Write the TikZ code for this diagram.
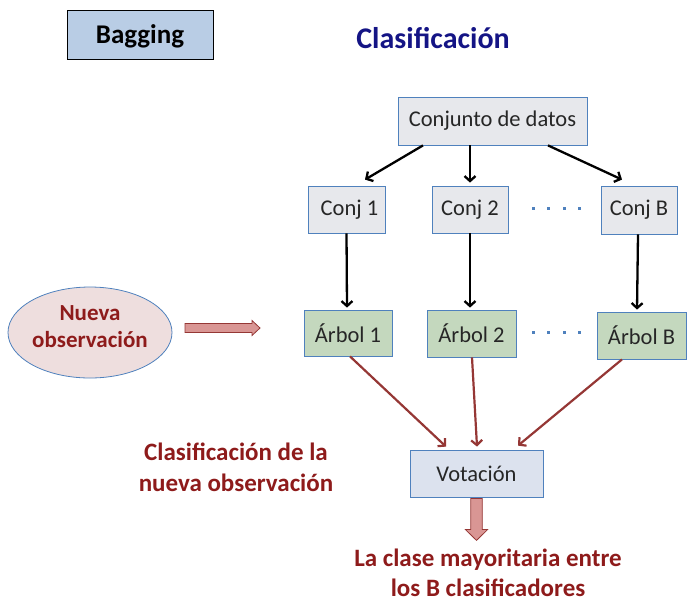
\documentclass[tikz,border=0pt]{standalone}
\usepackage{fontspec}
\setmainfont{Carlito}
\usetikzlibrary{positioning,arrows.meta,shapes.geometric}

\definecolor{bordeazul}{HTML}{4F81BD}
\definecolor{fondobagging}{HTML}{B9CDE5}
\definecolor{fondogris}{HTML}{E7E8EC}
\definecolor{fondoverde}{HTML}{C4D8BE}
\definecolor{fondovoto}{HTML}{DCE2EE}
\definecolor{fondorosa}{HTML}{EEDEDE}
\definecolor{rojooscuro}{HTML}{8E1B1B}
\definecolor{rojoflecha}{HTML}{953735}
\definecolor{rosaflecha}{HTML}{D99694}
\definecolor{azultitulo}{HTML}{141485}

\begin{document}
\begin{tikzpicture}[x=1pt, y=-1pt,
    caja/.style={draw=bordeazul, line width=0.8pt, inner sep=0pt,
        text=black!85, font=\fontsize{22.5}{26}\selectfont},
    rotulo/.style={text=rojooscuro, align=center,
        font=\bfseries\fontsize{25}{31}\selectfont},
    negra/.style={-{Straight Barb[length=5pt,width=11pt]}, line width=2.3pt},
    roja/.style={-{Straight Barb[length=5pt,width=11pt]}, line width=2.2pt, draw=rojoflecha},
    bloque/.style={fill=rosaflecha, draw=rojoflecha, line width=0.8pt}]
    \useasboundingbox (0,0) rectangle (692,603);

    % cabecera
    \node[draw=black, line width=0.8pt, fill=fondobagging, minimum width=146pt, minimum height=49pt,
        text depth=0pt, font=\bfseries\fontsize{27}{32}\selectfont] (bagging) at (140,34.5) {Bagging};
    \node[text=azultitulo, font=\bfseries\fontsize{30}{36}\selectfont] (titulo) at (433,38) {Clasificación};

    % datos y muestras
    \node[caja, fill=fondogris, minimum width=189pt, minimum height=48pt] (datos) at (492.5,121) {Conjunto de datos};
    \node[caja, fill=fondogris, minimum width=77pt, minimum height=47pt] (conj1) at (346.5,209.5) {\hspace{6pt}Conj 1};
    \node[caja, fill=fondogris, minimum width=76pt, minimum height=47pt] (conj2) at (470,209.5) {Conj 2};
    \node[caja, fill=fondogris, minimum width=76pt, minimum height=48pt] (conjB) at (639,210) {Conj B};

    % arboles
    \node[caja, fill=fondoverde, minimum width=88pt, minimum height=46pt] (arbol1) at (348,333) {Árbol 1};
    \node[caja, fill=fondoverde, minimum width=89pt, minimum height=47pt] (arbol2) at (471.5,333.5) {Árbol 2};
    \node[caja, fill=fondoverde, minimum width=89pt, minimum height=47pt] (arbolB) at (641.5,335.5) {Árbol B};

    \node[caja, fill=fondovoto, minimum width=133pt, minimum height=47pt] (votacion) at (476.5,473.5) {Votación};

    \node[ellipse, draw=bordeazul, line width=0.8pt, fill=fondorosa, minimum width=164pt, minimum height=91pt]
        (obs) at (90,332.5) {};
    \node[text=rojooscuro, align=center, font=\bfseries\fontsize{23}{27}\selectfont]
        (obstexto) at ([yshift=6pt]obs.center) {Nueva\\observación};

    \node[rotulo] (clasif) at (236,467) {Clasificación de la\\nueva observación};
    \node[rotulo, font=\bfseries\fontsize{25}{30}\selectfont] (clase) at (488,573) {La clase mayoritaria entre\\los B clasificadores};

    % puntos suspensivos
    \foreach \x in {533,548.5,564,579.5} {
        \fill[bordeazul] (\x-1.5,206.5) rectangle (\x+1.5,209.5);
        \fill[bordeazul] (\x-1.5,330.5) rectangle (\x+1.5,333.5);
    }

    % flechas
    \draw[negra] ([xshift=-69.5pt]datos.south) -- ([xshift=18.5pt,yshift=6pt]conj1.north);
    \draw[negra] ([xshift=-22.5pt]datos.south) -- ([yshift=3pt]conj2.north);
    \draw[negra] ([xshift=55.5pt]datos.south) -- ([xshift=-17pt,yshift=6pt]conjB.north);

    \draw[negra] (conj1.south) -- ([xshift=-1pt,yshift=2pt]arbol1.north);
    \draw[negra] (conj2.south) -- ([xshift=-1.5pt,yshift=2pt]arbol2.north);
    \draw[negra] ([xshift=-1pt]conjB.south) -- ([xshift=-4.5pt,yshift=2pt]arbolB.north);

    \draw[roja] ([xshift=2pt]arbol1.south) -- ([xshift=-30.5pt,yshift=3pt]votacion.north);
    \draw[roja] ([xshift=0.5pt]arbol2.south) -- ([xshift=0.5pt,yshift=3pt]votacion.north);
    \draw[roja] ([xshift=-19.5pt]arbolB.south) -- ([xshift=41.5pt,yshift=4pt]votacion.north);

    % flechas gruesas
    \coordinate (izq) at (185,328);
    \draw[bloque] (izq) ++(0,-4.5) -- ++(67,0) -- ++(0,-3) -- ++(8,7.5) -- ++(-8,7.5)
        -- ++(0,-3) -- ++(-67,0) -- cycle;
    \coordinate (abajo) at ([yshift=-1pt]votacion.south);
    \draw[bloque] (abajo) ++(-5.75,0) -- ++(0,31) -- ++(-5.5,0) -- ++(11.25,11) -- ++(11.25,-11)
        -- ++(-5.5,0) -- ++(0,-31) -- cycle;
\end{tikzpicture}
\end{document}
